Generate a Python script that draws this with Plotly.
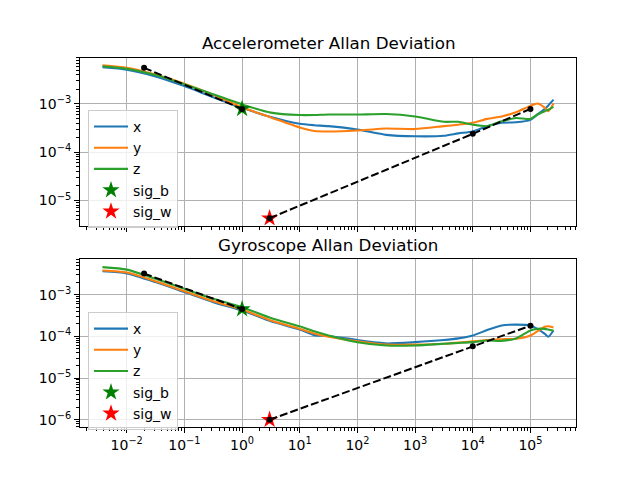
import plotly.graph_objects as go

# ---------------- data ----------------
tau = [0.0038, 0.01, 0.0316, 0.1, 0.316, 1, 3.16, 10, 17.8, 31.6, 100, 316, 1000,
       3162, 5623, 10000, 17783, 31623, 56234, 100000, 131826, 177828, 204174, 251189]

acc_x = [5.75e-3, 5.13e-3, 3.72e-3, 2.34e-3, 1.38e-3, 8.32e-4, 5.37e-4, 3.89e-4, 3.63e-4,
         3.47e-4, 2.95e-4, 2.29e-4, 2.14e-4, 2.19e-4, 2.46e-4, 2.69e-4, 3.47e-4, 4.07e-4,
         4.17e-4, 4.68e-4, 6.03e-4, 7.94e-4, 9.33e-4, 1.23e-3]
acc_y = [6.31e-3, 5.62e-3, 4.07e-3, 2.63e-3, 1.55e-3, 8.51e-4, 5.25e-4, 3.24e-4, 2.75e-4,
         2.69e-4, 2.82e-4, 3.09e-4, 3.02e-4, 3.47e-4, 3.72e-4, 4.07e-4, 4.90e-4, 5.50e-4,
         6.76e-4, 9.12e-4, 1.02e-3, 8.32e-4, 7.08e-4, 1.02e-3]
acc_z = [6.03e-3, 5.37e-3, 3.98e-3, 2.57e-3, 1.58e-3, 9.77e-4, 6.61e-4, 5.89e-4, 5.89e-4,
         6.03e-4, 6.03e-4, 6.17e-4, 5.50e-4, 4.27e-4, 4.27e-4, 3.72e-4, 3.47e-4, 4.37e-4,
         5.13e-4, 4.90e-4, 6.03e-4, 7.08e-4, 7.59e-4, 8.71e-4]

gyr_x = [3.63e-3, 3.24e-3, 2.00e-3, 1.15e-3, 6.61e-4, 4.17e-4, 2.29e-4, 1.45e-4, 1.07e-4,
         1.02e-4, 8.13e-5, 6.76e-5, 7.24e-5, 8.13e-5, 8.91e-5, 1.05e-4, 1.41e-4, 1.82e-4,
         1.91e-4, 1.82e-4, 1.51e-4, 1.15e-4, 9.77e-5, 1.38e-4]
gyr_y = [3.80e-3, 3.39e-3, 2.09e-3, 1.20e-3, 6.92e-4, 4.37e-4, 2.40e-4, 1.51e-4, 1.17e-4,
         9.77e-5, 7.59e-5, 6.31e-5, 6.31e-5, 6.61e-5, 7.08e-5, 7.59e-5, 8.13e-5, 8.51e-5,
         8.71e-5, 1.05e-4, 1.32e-4, 1.70e-4, 1.74e-4, 1.62e-4]
gyr_z = [4.57e-3, 3.98e-3, 2.40e-3, 1.38e-3, 7.94e-4, 5.01e-4, 2.75e-4, 1.74e-4, 1.32e-4,
         1.05e-4, 7.24e-5, 6.03e-5, 6.03e-5, 6.61e-5, 6.92e-5, 7.24e-5, 7.94e-5, 7.76e-5,
         8.91e-5, 1.38e-4, 1.51e-4, 1.51e-4, 1.45e-4, 1.35e-4]

# white-noise (sig_b) and random-walk (sig_w) fit lines
white_tau = [0.02, 1]
rw_tau = [3, 10000, 100000]
acc_white = [5.6e-3, 7.9e-4]
acc_rw = [4.3e-6, 2.4e-4, 7.9e-4]
gyr_white = [3.2e-3, 4.5e-4]
gyr_rw = [1.0e-6, 5.8e-5, 1.8e-4]
acc_sig_b = (1, 7.9e-4)
acc_sig_w = (3, 4.3e-6)
gyr_sig_b = (1, 4.5e-4)
gyr_sig_w = (3, 1.0e-6)

series_names = ["x", "y", "z"]
series_colors = ["#1f77b4", "#ff7f0e", "#2ca02c"]
titles = ["Accelerometer Allan Deviation", "Gyroscope Allan Deviation"]
x_decades = [-2, -1, 0, 1, 2, 3, 4, 5]
y_decades_top = [-5, -4, -3]
y_decades_bot = [-6, -5, -4, -3]

# ---------------- figure ----------------
FONT = "DejaVu Sans"
fig = go.Figure()

panels = [
    ("x", "y", "legend", [acc_x, acc_y, acc_z], acc_white, acc_rw, acc_sig_b, acc_sig_w),
    ("x2", "y2", "legend2", [gyr_x, gyr_y, gyr_z], gyr_white, gyr_rw, gyr_sig_b, gyr_sig_w),
]

for xa, ya, lg, curves, wy, ry, sb, sw in panels:
    for name, col, vals in zip(series_names, series_colors, curves):
        fig.add_trace(go.Scatter(x=tau, y=vals, mode="lines", name=name,
                                 line=dict(color=col, width=2.1, shape="spline", smoothing=0.6),
                                 xaxis=xa, yaxis=ya, legend=lg))
    fig.add_trace(go.Scatter(x=[sb[0]], y=[sb[1]], mode="markers", name="sig_b",
                             marker=dict(symbol="star", size=13, color="#008000",
                                         line=dict(width=0)),
                             xaxis=xa, yaxis=ya, legend=lg))
    fig.add_trace(go.Scatter(x=[sw[0]], y=[sw[1]], mode="markers", name="sig_w",
                             marker=dict(symbol="star", size=13, color="#ff0000",
                                         line=dict(width=0)),
                             xaxis=xa, yaxis=ya, legend=lg))
    for tx, ty in ((white_tau, wy), (rw_tau, ry)):
        fig.add_trace(go.Scatter(x=tx, y=ty, mode="lines+markers", showlegend=False,
                                 line=dict(color="black", width=2, dash="8px,3px"),
                                 marker=dict(color="black", size=6),
                                 xaxis=xa, yaxis=ya, legend=lg))


def sup(k):
    return "10<sup>" + ("\u2212" + str(-k) if k < 0 else str(k)) + "</sup>"


def minor_vals(lo, hi):
    out = []
    for k in range(lo, hi + 1):
        for m in range(2, 10):
            out.append(m * 10.0 ** k)
    return out


axis_common = dict(type="log", showline=True, linecolor="black", linewidth=1.1, mirror=True,
                   ticks="outside", ticklen=5, tickwidth=1.1, tickcolor="black",
                   showgrid=True, gridcolor="#b0b0b0", gridwidth=1.1, zeroline=False,
                   tickfont=dict(family=FONT, size=14, color="black"))

xr = [-2.81, 5.79]
xmaj = [10.0 ** k for k in x_decades]
xminor = dict(tickvals=minor_vals(-3, 5), ticks="outside", ticklen=3, tickwidth=0.9,
              tickcolor="black", showgrid=False)

fig.update_layout(
    width=640, height=480, autosize=False,
    margin=dict(l=0, r=0, t=0, b=0),
    paper_bgcolor="white", plot_bgcolor="white",
    font=dict(family=FONT, size=14, color="black"),
    showlegend=True,
    xaxis=dict(axis_common, domain=[0.125, 0.9], range=xr, anchor="y",
               tickvals=xmaj, showticklabels=False, minor=xminor),
    yaxis=dict(axis_common, domain=[0.53, 0.88], range=[-5.52, -2.04], anchor="x",
               tickvals=[10.0 ** k for k in y_decades_top],
               ticktext=[sup(k) for k in y_decades_top],
               minor=dict(tickvals=minor_vals(-6, -3), ticks="outside", ticklen=3,
                          tickwidth=0.9, tickcolor="black", showgrid=False)),
    xaxis2=dict(axis_common, domain=[0.125, 0.9], range=xr, anchor="y2",
                tickvals=xmaj, ticktext=[sup(k) for k in x_decades], minor=xminor),
    yaxis2=dict(axis_common, domain=[0.11, 0.46], range=[-6.18, -2.15], anchor="x2",
                tickvals=[10.0 ** k for k in y_decades_bot],
                ticktext=[sup(k) for k in y_decades_bot],
                minor=dict(tickvals=minor_vals(-7, -3), ticks="outside", ticklen=3,
                           tickwidth=0.9, tickcolor="black", showgrid=False)),
    legend=dict(x=0.1375, y=0.771, xanchor="left", yanchor="top",
                bgcolor="rgba(255,255,255,0.8)", bordercolor="#cccccc", borderwidth=1,
                font=dict(family=FONT, size=14, color="black"), itemwidth=34,
                tracegroupgap=0),
    legend2=dict(x=0.1375, y=0.35, xanchor="left", yanchor="top",
                 bgcolor="rgba(255,255,255,0.8)", bordercolor="#cccccc", borderwidth=1,
                 font=dict(family=FONT, size=14, color="black"), itemwidth=34,
                 tracegroupgap=0),
    annotations=[
        dict(text=titles[0], xref="paper", yref="paper", x=0.5125, y=1 - 43 / 480,
             xanchor="center", yanchor="middle", showarrow=False,
             font=dict(family=FONT, size=16.7, color="black")),
        dict(text=titles[1], xref="paper", yref="paper", x=0.5125, y=1 - 245 / 480,
             xanchor="center", yanchor="middle", showarrow=False,
             font=dict(family=FONT, size=16.7, color="black")),
    ],
)

fig.write_html("out.html", config={"displayModeBar": False},
               post_script="document.body.style.margin='0';")
